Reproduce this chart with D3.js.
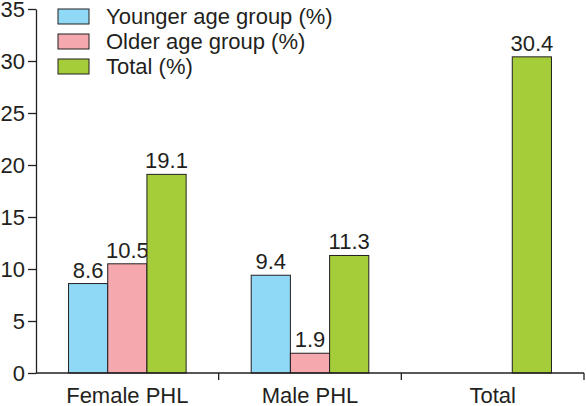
<!DOCTYPE html>
<html><head><meta charset="utf-8">
<script src="https://cdn.jsdelivr.net/npm/d3@7"></script>
<style>body{margin:0;background:#fff}svg{display:block}text{font-family:"Liberation Sans",Arial,sans-serif;fill:#231f20}</style>
</head><body><svg id="c" width="586" height="406"></svg>
<script>
const categories = ["Female PHL", "Male PHL", "Total"];
const seriesNames = ["Younger age group (%)", "Older age group (%)", "Total (%)"];
const younger = [8.6, 9.4, null];
const older = [10.5, 1.9, null];
const total = [19.1, 11.3, 30.4];
const yTicks = [0, 5, 10, 15, 20, 25, 30, 35];
const colors = ["#8fd9f6", "#f5a8ad", "#a5cd39"];

const svg = d3.select("#c");
const m = {left: 36, right: 2, top: 9, bottom: 33};
const W = 586, H = 406;
const FS = 22;
const x = d3.scaleBand().domain(categories).range([m.left, W - m.right]).paddingInner(0).paddingOuter(0);
const x1 = d3.scaleBand().domain(d3.range(3)).range([0, x.bandwidth()]).paddingInner(0).paddingOuter(0.83);
const y = d3.scaleLinear().domain([0, 35]).range([H - m.bottom, m.top]);
const series = [younger, older, total];
const ink = "#231f20";

// bars
series.forEach((vals, si) => {
  categories.forEach((c, ci) => {
    const v = vals[ci];
    if (v == null) return;
    const bx = x(c) + x1(si);
    svg.append("rect").attr("x", bx).attr("y", y(v)).attr("width", x1.bandwidth()).attr("height", y(0) - y(v))
      .attr("fill", colors[si]).attr("stroke", ink).attr("stroke-width", 1);
    svg.append("text").attr("x", bx + x1.bandwidth() / 2).attr("y", y(v) - 6).attr("text-anchor", "middle")
      .attr("font-size", FS).text(v.toFixed(1));
  });
});

// y axis
const ya = svg.append("g").attr("transform", `translate(${m.left},0)`)
  .call(d3.axisLeft(y).tickValues(yTicks).tickSize(8).tickPadding(3).tickSizeOuter(0));
ya.attr("font-size", FS).attr("font-family", '"Liberation Sans",Arial,sans-serif');
ya.selectAll("text").attr("fill", ink);
ya.selectAll("line,path").attr("stroke", ink).attr("stroke-width", 1.3);

// x axis
const xa = svg.append("g").attr("transform", `translate(0,${y(0)})`);
xa.append("line").attr("x1", m.left).attr("x2", W - m.right).attr("stroke", ink).attr("stroke-width", 1.3);
categories.forEach(c => {
  const xe = x(c) + x.bandwidth();
  xa.append("line").attr("x1", xe).attr("x2", xe).attr("y1", 0).attr("y2", 7).attr("stroke", ink).attr("stroke-width", 1.3);
  xa.append("text").attr("x", x(c) + x.bandwidth() / 2).attr("y", 30).attr("text-anchor", "middle")
    .attr("font-size", FS).text(c);
});

// legend
const lg = svg.append("g");
seriesNames.forEach((n, i) => {
  const ly = 9 + i * 25;
  lg.append("rect").attr("x", 58).attr("y", ly).attr("width", 31).attr("height", 15)
    .attr("fill", colors[i]).attr("stroke", ink).attr("stroke-width", 1);
  lg.append("text").attr("x", 106).attr("y", ly + 15).attr("font-size", FS).text(n);
});
</script></body></html>
